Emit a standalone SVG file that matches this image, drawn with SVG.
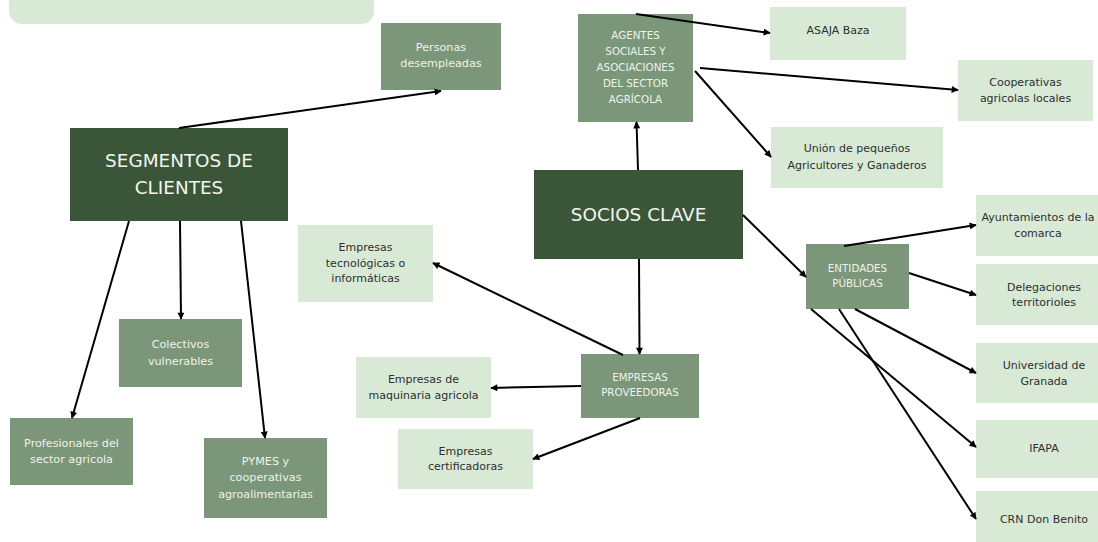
<svg xmlns="http://www.w3.org/2000/svg" width="1098" height="542" viewBox="0 0 1098 542">
<defs>
<style>
.dark{fill:#3a5537}
.mid{fill:#7b9679}
.light{fill:#d8ead6}
text{font-family:"DejaVu Sans","Liberation Sans",sans-serif;text-anchor:middle}
.tw{fill:#eef3ec;font-size:11.2px}
.tc{fill:#eef3ec;font-size:10.3px}
.tb{fill:#f2f5f0;font-size:18.4px}
.td{fill:#2e2e2e;font-size:11px}
.c{stroke:#000;stroke-width:2;fill:none;marker-end:url(#ah)}
</style>
<marker id="ah" viewBox="0 0 10 10" refX="9" refY="5" markerWidth="8" markerHeight="7" markerUnits="userSpaceOnUse" orient="auto">
<path d="M0,0 L10,5 L0,10 z" fill="#000"/>
</marker>
</defs>
<rect width="1098" height="542" fill="#fff"/>
<rect x="9" y="-20" width="365" height="44" rx="13" class="light"/>

<g id="personas"><rect x="381" y="23" width="120" height="67" class="mid"/>
<text class="tw" x="441" y="51">Personas</text><text class="tw" x="441" y="67">desempleadas</text></g>

<g id="segmentos"><rect x="70" y="128" width="218" height="93" class="dark"/>
<text class="tb" x="179" y="167">SEGMENTOS DE</text><text class="tb" x="179" y="193.5">CLIENTES</text></g>

<g id="agentes"><rect x="578" y="14" width="115" height="108" class="mid"/>
<text class="tc" x="635.5" y="38.5">AGENTES</text><text class="tc" x="635.5" y="54.5">SOCIALES Y</text><text class="tc" x="635.5" y="71">ASOCIACIONES</text><text class="tc" x="635.5" y="87">DEL SECTOR</text><text class="tc" x="635.5" y="102.5">AGRÍCOLA</text></g>

<g id="asaja"><rect x="770" y="7" width="136" height="53" class="light"/>
<text class="td" x="838" y="34">ASAJA Baza</text></g>

<g id="cooperativas"><rect x="958" y="60" width="135" height="61" class="light"/>
<text class="td" x="1025.5" y="86">Cooperativas</text><text class="td" x="1025.5" y="101.5">agricolas locales</text></g>

<g id="union"><rect x="771" y="127" width="172" height="61" class="light"/>
<text class="td" x="857" y="152">Unión de pequeños</text><text class="td" x="857" y="169">Agricultores y Ganaderos</text></g>

<g id="socios"><rect x="534" y="170" width="209" height="89" class="dark"/>
<text class="tb" x="638.5" y="221">SOCIOS CLAVE</text></g>

<g id="ayuntamientos"><rect x="976" y="195" width="136" height="61" class="light"/>
<text class="td" x="1038" y="221">Ayuntamientos de la</text><text class="td" x="1038" y="236.5">comarca</text></g>

<g id="entidades"><rect x="806" y="244" width="103" height="65" class="mid"/>
<text class="tc" x="857.5" y="272">ENTIDADES</text><text class="tc" x="857.5" y="287">PÚBLICAS</text></g>

<g id="delegaciones"><rect x="976" y="264" width="136" height="61" class="light"/>
<text class="td" x="1044" y="290.5">Delegaciones</text><text class="td" x="1044" y="305.5">territorioles</text></g>

<g id="universidad"><rect x="976" y="343" width="136" height="60" class="light"/>
<text class="td" x="1044" y="369">Universidad de</text><text class="td" x="1044" y="384.5">Granada</text></g>

<g id="ifapa"><rect x="976" y="420" width="136" height="58" class="light"/>
<text class="td" x="1044" y="452">IFAPA</text></g>

<g id="crn"><rect x="976" y="491" width="136" height="60" class="light"/>
<text class="td" x="1044" y="523">CRN Don Benito</text></g>

<g id="tecnologicas"><rect x="298" y="225" width="135" height="77" class="light"/>
<text class="td" x="365.5" y="251">Empresas</text><text class="td" x="365.5" y="266.5">tecnológicas o</text><text class="td" x="365.5" y="281.5">informáticas</text></g>

<g id="colectivos"><rect x="119" y="319" width="123" height="68" class="mid"/>
<text class="tw" x="180.5" y="348">Colectivos</text><text class="tw" x="180.5" y="364.5">vulnerables</text></g>

<g id="profesionales"><rect x="10" y="418" width="123" height="67" class="mid"/>
<text class="tw" x="71.5" y="446.5">Profesionales del</text><text class="tw" x="71.5" y="462.5">sector agricola</text></g>

<g id="pymes"><rect x="204" y="438" width="123" height="80" class="mid"/>
<text class="tw" x="265.5" y="464.5">PYMES y</text><text class="tw" x="265.5" y="481">cooperativas</text><text class="tw" x="265.5" y="497.5">agroalimentarias</text></g>

<g id="maquinaria"><rect x="356" y="357" width="135" height="61" class="light"/>
<text class="td" x="423.5" y="383">Empresas de</text><text class="td" x="423.5" y="398.5">maquinaria agricola</text></g>

<g id="proveedoras"><rect x="581" y="354" width="118" height="64" class="mid"/>
<text class="tc" x="640" y="381">EMPRESAS</text><text class="tc" x="640" y="396">PROVEEDORAS</text></g>

<g id="certificadoras"><rect x="398" y="429" width="135" height="60" class="light"/>
<text class="td" x="465.5" y="454.5">Empresas</text><text class="td" x="465.5" y="469.5">certificadoras</text></g>

<g id="connectors">
<line class="c" x1="179" y1="128" x2="441" y2="91"/>
<line class="c" x1="129" y1="221" x2="72" y2="418"/>
<line class="c" x1="180" y1="221" x2="181" y2="319"/>
<line class="c" x1="241" y1="221" x2="265" y2="438"/>
<line class="c" x1="636" y1="14" x2="770" y2="33"/>
<line class="c" x1="700" y1="68" x2="958" y2="90"/>
<line class="c" x1="695" y1="71" x2="771" y2="157"/>
<line class="c" x1="638" y1="170" x2="636.5" y2="122"/>
<line class="c" x1="743" y1="215" x2="806" y2="277"/>
<line class="c" x1="639" y1="259" x2="639.5" y2="354"/>
<line class="c" x1="623" y1="355" x2="433" y2="263"/>
<line class="c" x1="581" y1="386" x2="491" y2="388"/>
<line class="c" x1="640" y1="418" x2="533" y2="459"/>
<line class="c" x1="844" y1="246" x2="976" y2="225"/>
<line class="c" x1="909" y1="273" x2="976" y2="295"/>
<line class="c" x1="855" y1="309" x2="976" y2="373"/>
<line class="c" x1="811" y1="309" x2="976" y2="447"/>
<line class="c" x1="839" y1="309" x2="976" y2="519"/>
</g>
</svg>
